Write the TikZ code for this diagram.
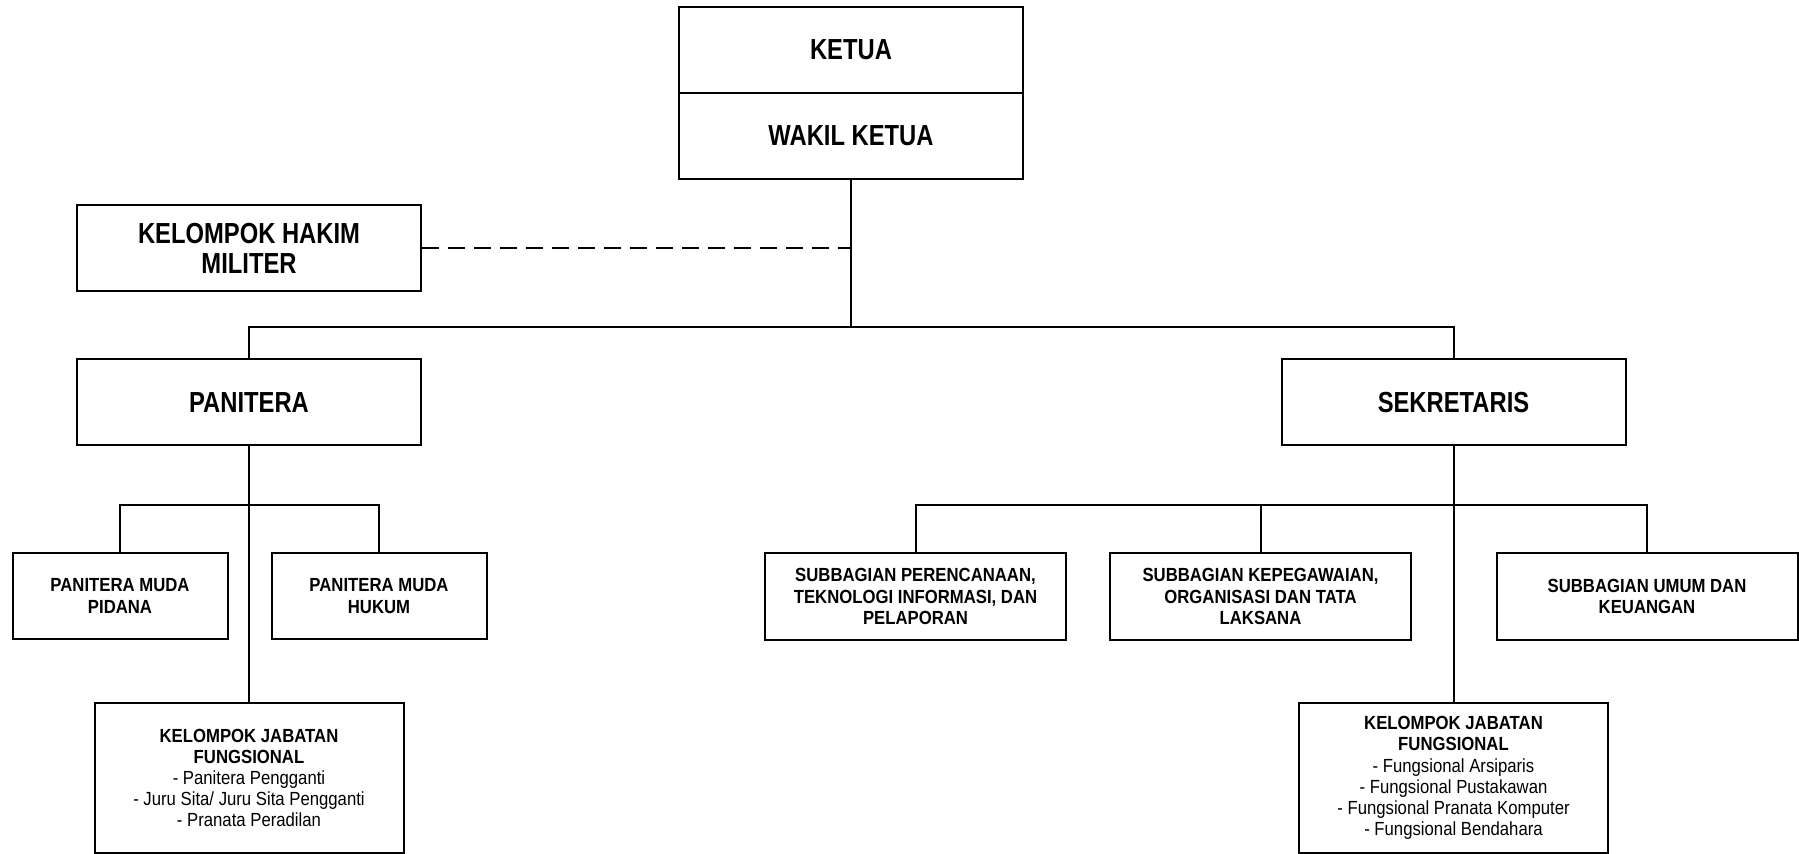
\documentclass[tikz,border=0pt]{standalone}
\usepackage{fontspec}
\setmainfont{Liberation Sans}[FakeStretch=0.82]
\newfontfamily\narrowfont{Liberation Sans}[FakeStretch=0.88]
\usetikzlibrary{positioning}

\tikzset{
  unit/.style={draw, line width=1pt, inner sep=0pt, align=center},
  bigunit/.style={unit, minimum width=172pt, minimum height=43pt,
    font=\bfseries\fontsize{14.5}{15}\selectfont},
  muda/.style={unit, minimum width=107.5pt, minimum height=43pt,
    font=\narrowfont\bfseries\fontsize{9.5}{10.6}\selectfont},
  subunit/.style={unit, minimum width=150.5pt, minimum height=43.5pt,
    font=\narrowfont\bfseries\fontsize{9.5}{10.6}\selectfont},
  groupunit/.style={unit, minimum width=154.5pt, minimum height=75pt,
    font=\narrowfont\fontsize{9.5}{10.6}\selectfont},
  link/.style={line width=1pt}
}

\begin{document}
\begin{tikzpicture}[x=0.5pt,y=-0.5pt]
\useasboundingbox (0,0) rectangle (1799,854);

\node[bigunit] (ketua) at (851,50) {KETUA};
\node[bigunit] (wakil) at (851,136) {WAKIL KETUA};
\node[bigunit] (hakim) at (249,248) {KELOMPOK HAKIM\\MILITER};

\node[bigunit] (panitera) at (249,402.5) {PANITERA};
\node[bigunit] (sekretaris) at (1453.5,402.5) {SEKRETARIS};

\node[muda] (pmpidana) at (120,596) {PANITERA MUDA\\PIDANA};
\node[muda] (pmhukum) at (379,596) {PANITERA MUDA\\HUKUM};
\node[groupunit] (kjf1) at (249,778) {\textbf{KELOMPOK JABATAN}\\\textbf{FUNGSIONAL}\\- Panitera Pengganti\\- Juru Sita/ Juru Sita Pengganti\\- Pranata Peradilan};

\node[subunit] (sub1) at (915.5,596.5) {SUBBAGIAN PERENCANAAN,\\TEKNOLOGI INFORMASI, DAN\\PELAPORAN};
\node[subunit] (sub2) at (1260.5,596.5) {SUBBAGIAN KEPEGAWAIAN,\\ORGANISASI DAN TATA\\LAKSANA};
\node[subunit] (sub3) at (1647,596.5) {SUBBAGIAN UMUM DAN\\KEUANGAN};
\node[groupunit] (kjf2) at (1453.5,778) {\textbf{KELOMPOK JABATAN}\\\textbf{FUNGSIONAL}\\- Fungsional Arsiparis\\- Fungsional Pustakawan\\- Fungsional Pranata Komputer\\- Fungsional Bendahara};

\coordinate (trunk) at (851,327);
\draw[link] (wakil.south) -- (trunk);
\draw[link] (panitera.north) |- (trunk) -| (sekretaris.north);
\draw[link, dash pattern=on 8.5pt off 4.5pt] (hakim.east) -- (hakim.east -| trunk);

\draw[link] (panitera.south) -- (kjf1.north);
\draw[link] (pmpidana.north) -- ++(0,-47) -| (pmhukum.north);

\draw[link] (sekretaris.south) -- (kjf2.north);
\draw[link] (sub1.north) -- ++(0,-47) -| (sub3.north);
\draw[link] (sub2.north) -- ++(0,-47);

\end{tikzpicture}
\end{document}
